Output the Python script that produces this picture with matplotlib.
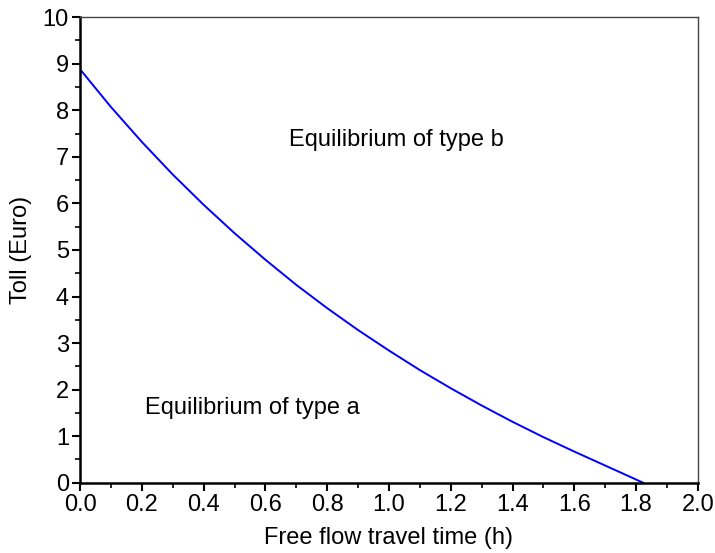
import matplotlib
matplotlib.use("Agg")
import matplotlib.pyplot as plt
from matplotlib.ticker import MultipleLocator

plt.rcParams["font.family"] = ["Liberation Sans", "DejaVu Sans"]

# values
time_h = [0.0, 0.1, 0.2, 0.3, 0.4, 0.5, 0.6, 0.7, 0.8, 0.9,
          1.0, 1.1, 1.2, 1.3, 1.4, 1.5, 1.6, 1.7, 1.8, 1.823]
toll   = [8.88, 8.07, 7.32, 6.62, 5.97, 5.36, 4.79, 4.25, 3.75, 3.28,
          2.84, 2.42, 2.03, 1.66, 1.31, 0.98, 0.67, 0.37, 0.07, 0.0]

fig = plt.figure(figsize=(7.15, 5.53), dpi=100)
ax = fig.add_axes([0.112, 0.127, 0.864, 0.842])

ax.plot(time_h, toll, color="#0000ff", linewidth=1.4)

ax.set_xlim(0, 2.0)
ax.set_ylim(0, 10)
ax.xaxis.set_major_locator(MultipleLocator(0.2))
ax.xaxis.set_minor_locator(MultipleLocator(0.1))
ax.yaxis.set_major_locator(MultipleLocator(1))
ax.yaxis.set_minor_locator(MultipleLocator(0.5))
ax.xaxis.set_major_formatter(lambda v, p: f"{v:.1f}")

ax.tick_params(which="major", direction="out", length=6, width=1.5, labelsize=17, pad=2)
ax.tick_params(which="minor", direction="out", length=3.5, width=1.2)

for s in ["left", "bottom"]:
    ax.spines[s].set_linewidth(1.8)
    ax.spines[s].set_color("black")
for s in ["top", "right"]:
    ax.spines[s].set_linewidth(1.0)
    ax.spines[s].set_color("#444444")

ax.text(0.676, 7.36, "Equilibrium of type b", fontsize=17, va="center")
ax.text(0.21, 1.61, "Equilibrium of type a", fontsize=17, va="center")

ax.set_xlabel("Free flow travel time (h)", fontsize=17, labelpad=8)
ax.set_ylabel("Toll (Euro)", fontsize=17, labelpad=8)

fig.savefig("out.png", dpi=100)
